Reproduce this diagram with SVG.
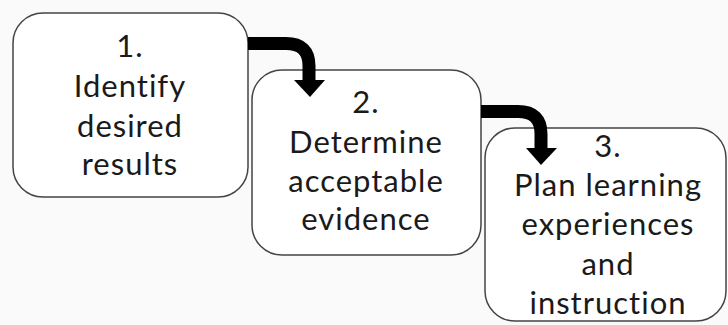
<svg xmlns="http://www.w3.org/2000/svg" width="728" height="325" viewBox="0 0 728 325">
<style>
.box{fill:#fff;stroke:#444;stroke-width:1.5}
.t{font-family:Lato,"Open Sans",sans-serif;font-size:31px;fill:#1a1a1a;text-anchor:middle;font-variant-ligatures:none;letter-spacing:1px}
.bar{fill:none;stroke:#000;stroke-width:13}
.head{fill:#000}
</style>
<rect width="728" height="325" fill="#fafafa"/>
<g id="node1">
<rect class="box" x="13" y="13" width="235" height="184" rx="30"/>
<text class="t" x="130" y="57">1.</text>
<text class="t" x="130" y="97">Identify</text>
<text class="t" x="130" y="137">desired</text>
<text class="t" x="130" y="175">results</text>
</g>
<g id="node2">
<rect class="box" x="252" y="70" width="229" height="185" rx="30"/>
<text class="t" x="366" y="113">2.</text>
<text class="t" x="366" y="153">Determine</text>
<text class="t" x="366" y="192">acceptable</text>
<text class="t" x="366" y="230">evidence</text>
</g>
<g id="node3">
<rect class="box" x="485" y="128" width="241" height="193" rx="30"/>
<text class="t" x="608" y="157">3.</text>
<text class="t" x="608" y="196">Plan learning</text>
<text class="t" x="608" y="235">experiences</text>
<text class="t" x="608" y="275">and</text>
<text class="t" x="608" y="314">instruction</text>
</g>
<g id="connectors">
<path class="bar" d="M248,43.5 H286 Q309,43.5 309,66 V82"/>
<polygon class="head" points="294,80 325,80 310,97"/>
<path class="bar" d="M481,111.5 H518 Q541,111.5 541,134 V150"/>
<polygon class="head" points="526,148 557,148 541,165"/>
</g>
</svg>
